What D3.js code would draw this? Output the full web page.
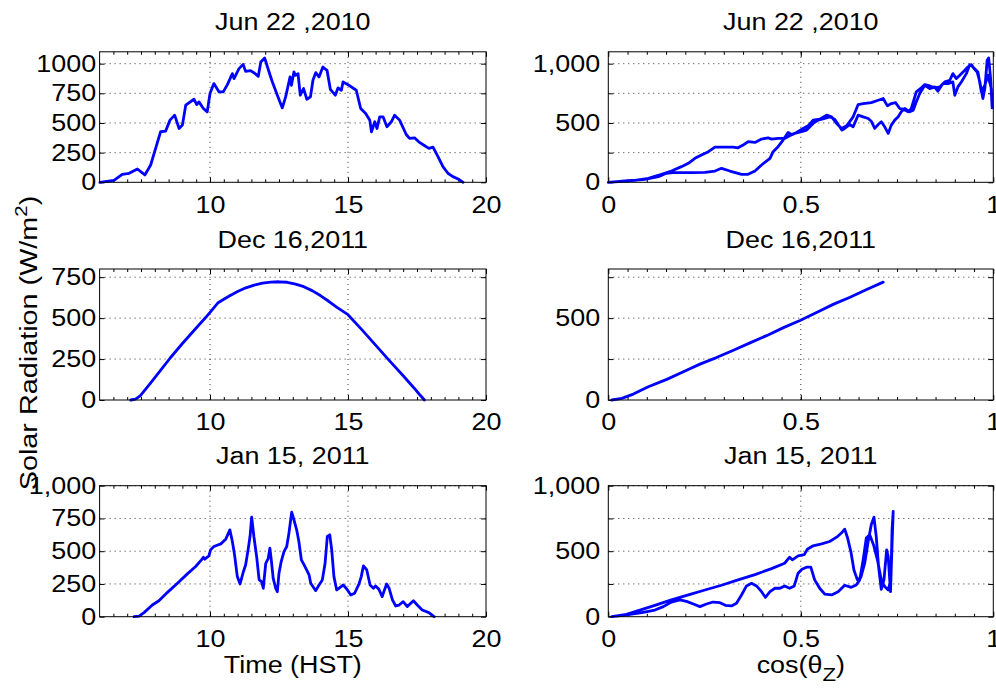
<!DOCTYPE html>
<html>
<head>
<meta charset="utf-8">
<script src="https://cdn.jsdelivr.net/npm/d3@7"></script>
<style>
  body { margin: 0; background: #fff; }
  text { font-family: "Liberation Sans", Arial, Helvetica, sans-serif; fill: #000; }
</style>
</head>
<body>
<div id="chart"></div>
<script>
// ---- data ----
var titles = ["Jun 22 ,2010", "Dec 16,2011", "Jan 15, 2011"];

// Jun 22, 2010 : radiation vs time (HST)
var jun22Hour = [6.01,6.52,6.82,7.07,7.37,7.64,7.85,8.03,8.21,8.39,8.55,8.72,8.88,9.0,9.12,9.42,9.52,9.6,9.76,9.9,10.0,10.14,10.33,10.48,10.63,10.81,10.87,11.05,11.2,11.29,11.47,11.59,11.75,11.84,11.98,12.14,12.26,12.44,12.62,12.74,12.9,12.95,13.04,
  13.1,13.19,13.27,13.39,13.51,13.64,13.73,13.83,13.95,14.09,14.24,14.36,14.54,14.64,14.76,14.82,15.0,15.3,15.46,15.64,15.79,15.85,15.97,16.05,16.15,16.27,16.41,16.57,16.69,16.87,17.11,17.23,17.41,17.59,17.78,17.93,18.08,18.26,18.44,18.62,18.8,18.99,19.17];
var jun22Rad = [0,17,67,76,112,62,146,286,426,431,524,566,454,482,650,700,655,678,622,594,748,832,762,762,823,916,874,958,994,935,941,924,893,1014,1048,930,846,734,627,720,888,818,930,
  902,916,734,790,700,720,860,924,888,972,944,784,734,796,776,846,823,776,622,580,524,426,510,454,552,552,468,510,566,524,403,370,375,336,308,286,297,216,132,76,48,28,0];

// Jun 22, 2010 : radiation vs cos(zenith), morning then afternoon
var jun22CosAm = [0,.043,.095,.130,.151,.173,.216,.251,.277,.294,.316,.346,.363,.381,.398,.420,.428,.441,.454,.467,.476,.489,.506,.519,.532,.549,.567,.580,.593,.606,.619,.636,.649,.662,.683,.701,.714,.725,.735,.746,.757,.766,.779,.787,.800,.813,.822,.835,.848,.861,.874,.887,.895,.904,.913,.926,.934,.943,.950,.958,.965,.973,.978,.984,.988,.993,.997];
var jun22RadAm = [0,11,25,48,76,84,81,84,95,118,95,67,67,95,146,202,258,300,356,420,403,420,454,476,524,532,566,552,496,454,476,552,655,664,672,692,706,644,664,672,622,616,594,622,762,796,824,812,796,804,846,860,916,874,902,944,972,992,958,930,846,706,790,1028,1048,874,627];
var jun22CosPm = [.995,.986,.978,.969,.960,.947,.939,.930,.917,.908,.900,.895,.882,.869,.856,.848,.835,.822,.809,.800,.792,.783,.770,.761,.753,.744,.735,.727,.718,.709,.701,.692,.683,.675,.662,.649,.636,.627,.614,.607,.597,.588,.575,.562,.545,.532,.515,.502,.484,.471,.458,.441,.424,.415,.398,.381,.363,.350,.337,.324,.303,.277,.260,.242,.225,.208,.190,.164,.138,.104,.069,.026,0];
var jun22RadPm = [790,902,818,762,930,972,992,916,846,804,734,846,832,832,768,804,790,818,748,678,608,594,622,594,552,524,482,412,468,510,487,454,515,538,552,566,468,487,454,440,487,532,552,538,524,496,440,426,412,392,370,370,364,375,364,336,342,314,291,297,297,297,258,230,202,160,132,95,67,34,17,6,0];

// Dec 16, 2011 (clear day)
var dec16Hour = [7.13,7.3,7.47,7.83,8.2,8.55,9.0,9.5,9.85,10.1,10.28,10.5,10.75,11.0,11.3,11.6,11.9,12.2,12.5,12.8,13.1,13.4,13.7,14.0,14.3,14.6,15.0,15.5,16.0,16.45,17.0,17.4,17.6,17.77];
var dec16Rad = [0,5,25,100,180,255,345,440,505,555,592,615,640,662,685,702,714,720,722,719,708,692,668,638,603,566,521,430,335,250,148,72,32,0];
var dec16Cos = [0.009,0.035,0.065,0.104,0.152,0.195,0.238,0.281,0.325,0.368,0.411,0.455,0.498,0.541,0.584,0.628,0.671,0.714];
var dec16CosRad = [0,10,36,81,126,172,219,259,304,349,393,442,486,535,584,628,675,720];

// Jan 15, 2011
var jan15Hour = [7.25,7.43,7.61,7.91,8.15,8.45,8.82,9.18,9.48,9.69,9.76,9.81,9.96,10.02,10.14,10.39,10.57,10.72,10.81,10.89,10.99,11.09,11.2,11.29,11.38,11.45,11.51,11.59,11.69,11.78,11.87,11.93,12.02,12.11,12.17,12.22,12.29,12.38,12.44,12.5,12.58,12.68,12.78,12.86,12.96,13.04,13.14,13.22,13.31,13.41,13.5,13.59,13.65,13.77,13.83,13.95,14.07,14.17,14.25,14.34,14.41,14.49,14.59,14.67,14.83,14.98,15.1,15.24,15.4,15.48,15.56,15.68,15.8,15.92,16.0,16.12,16.24,16.3,16.4,16.49,16.61,16.73,16.85,17.0,17.15,17.37,17.51,17.69,17.93,18.12];
var jan15Rad = [0,5,31,89,122,184,255,327,383,434,454,439,464,510,536,556,592,663,574,472,306,250,337,395,510,612,760,612,459,281,268,217,408,446,523,434,293,217,191,332,421,497,536,638,798,740,663,574,434,395,357,319,255,217,199,242,281,408,612,625,510,306,204,217,242,204,166,179,250,306,388,357,242,217,235,209,153,191,250,217,128,82,89,115,77,122,89,51,31,0];
var jan15CosAm = [0.009,.043,.078,.121,.164,.208,.251,.294,.337,.381,.424,.458,.471,.478,.493,.509,.517,.532,.554,.575,.593,.607,.614,.621,.630,.638,.647,.656,.666,.675,.683,.690,.696,.702,.709,.716,.723,.727,.733,.736,.740];
var jan15RadAm = [0,15,46,87,128,166,204,240,281,321,367,408,454,434,464,474,515,541,556,574,607,643,668,607,497,357,281,301,408,574,702,760,612,383,209,281,510,459,191,459,804];
var jan15CosPm = [.737,.734,.727,.718,.709,.699,.689,.679,.670,.662,.653,.644,.631,.614,.597,.580,.562,.549,.536,.526,.515,.503,.493,.483,.471,.458,.446,.433,.420,.408,.398,.385,.372,.359,.346,.333,.320,.304,.290,.272,.255,.238,.221,.203,.186,.164,.143,.121,.087,.043,.009];
var jan15RadPm = [663,281,204,230,281,434,548,625,600,434,281,242,224,240,191,166,173,217,281,378,378,362,332,235,217,235,217,217,191,148,191,235,255,235,166,102,82,87,107,112,97,77,97,117,128,112,77,51,31,13,0];

// axis ticks and labels
var yMax = [1100, 800, 1000];
var yTickVals = [[0,250,500,750,1000],[0,250,500,750],[0,250,500,750,1000]];
var yLabelsLeft = [["0","250","500","750","1000"],["0","250","500","750"],["0","250","500","750","1,000"]];
var yLabelsRight = [["0","","500","","1,000"],["0","","500",""],["0","","500","","1,000"]];
var hourTicks = [10, 15, 20];
var cosTicks = [0, 0.5, 1];
var cosTickLabels = ["0", "0.5", "1"];

// ---- layout ----
var width = 996, height = 688;
var colX = [[99.6, 486], [608.3, 993.3]];
var rowY = [[51.8, 182.3], [269, 400], [485.7, 616.7]];
var fontSize = 23, sx = 1.17;

var svg = d3.select("#chart").append("svg")
    .attr("width", width)
    .attr("height", height);

var panels = [
  {row:0, col:0, xd:[6,20], xs:jun22Hour, ys:jun22Rad},
  {row:0, col:1, xd:[0,1], xs:jun22CosAm.concat(jun22CosPm), ys:jun22RadAm.concat(jun22RadPm)},
  {row:1, col:0, xd:[6,20], xs:dec16Hour, ys:dec16Rad},
  {row:1, col:1, xd:[0,1], xs:dec16Cos, ys:dec16CosRad},
  {row:2, col:0, xd:[6,20], xs:jan15Hour, ys:jan15Rad},
  {row:2, col:1, xd:[0,1], xs:jan15CosAm.concat(jan15CosPm), ys:jan15RadAm.concat(jan15RadPm)}
];

function stretchText(sel) {
  sel.attr("transform", "scale(" + sx + ",1)")
     .style("font-size", fontSize + "px")
     .attr("fill", "#000");
}

panels.forEach(function(p) {
  var x0 = colX[p.col][0], x1 = colX[p.col][1];
  var y0 = rowY[p.row][0], y1 = rowY[p.row][1];
  var x = d3.scaleLinear().domain(p.xd).range([x0, x1]);
  var y = d3.scaleLinear().domain([0, yMax[p.row]]).range([y1, y0]);
  var g = svg.append("g");

  // dotted grid
  var xGrid = p.col === 0 ? [10, 15] : [0.5];
  var yGrid = yTickVals[p.row].filter(function(d) { return d > 0; });
  g.selectAll(".gx").data(xGrid).enter().append("line")
    .attr("x1", function(d) { return x(d); }).attr("x2", function(d) { return x(d); })
    .attr("y1", y0).attr("y2", y1)
    .attr("stroke", "#333").attr("stroke-width", 1).attr("stroke-dasharray", "1,4");
  g.selectAll(".gy").data(yGrid).enter().append("line")
    .attr("x1", x0).attr("x2", x1)
    .attr("y1", function(d) { return y(d); }).attr("y2", function(d) { return y(d); })
    .attr("stroke", "#333").attr("stroke-width", 1).attr("stroke-dasharray", "1,4");

  // ticks pointing inwards, on all four sides
  var minor = p.col === 0 ? d3.range(6.5, 20, 0.5) : d3.range(0.05, 1, 0.05);
  var xMaj = p.col === 0 ? hourTicks : cosTicks;
  var xLab = p.col === 0 ? hourTicks.map(String) : cosTickLabels;

  var ax = d3.axisBottom(x).tickValues(xMaj).tickSizeInner(-5).tickSizeOuter(0).tickPadding(14)
    .tickFormat(function(d, i) { return xLab[i]; });
  var gx = g.append("g").attr("transform", "translate(0," + y1 + ")").call(ax);
  g.append("g").attr("transform", "translate(0," + y1 + ")")
    .call(d3.axisBottom(x).tickValues(minor).tickSizeInner(-3).tickSizeOuter(0).tickFormat(""));
  g.append("g").attr("transform", "translate(0," + y0 + ")")
    .call(d3.axisTop(x).tickValues(xMaj).tickSizeInner(-5).tickSizeOuter(0).tickFormat(""));
  g.append("g").attr("transform", "translate(0," + y0 + ")")
    .call(d3.axisTop(x).tickValues(minor).tickSizeInner(-3).tickSizeOuter(0).tickFormat(""));

  var labs = p.col === 0 ? yLabelsLeft[p.row] : yLabelsRight[p.row];
  var ay = d3.axisLeft(y).tickValues(yTickVals[p.row]).tickSizeInner(-5).tickSizeOuter(0)
    .tickPadding(p.col === 0 ? 3 : 7)
    .tickFormat(function(d, i) { return labs[i]; });
  var gy = g.append("g").attr("transform", "translate(" + x0 + ",0)").call(ay);
  g.append("g").attr("transform", "translate(" + x1 + ",0)")
    .call(d3.axisRight(y).tickValues(yTickVals[p.row]).tickSizeInner(-5).tickSizeOuter(0).tickFormat(""));

  g.selectAll(".domain").remove();
  g.selectAll(".tick line").attr("stroke", "#000");
  gx.selectAll("text").call(stretchText);
  gy.selectAll("text").call(stretchText);

  // data line
  var line = d3.line()
    .x(function(d) { return x(d[0]); })
    .y(function(d) { return y(d[1]); });
  g.append("path")
    .datum(d3.zip(p.xs, p.ys))
    .attr("d", line)
    .attr("fill", "none")
    .attr("stroke", "#0000ff")
    .attr("stroke-width", 2.8)
    .attr("stroke-linejoin", "round")
    .attr("stroke-linecap", "round");

  // box
  g.append("rect")
    .attr("x", x0).attr("y", y0)
    .attr("width", x1 - x0).attr("height", y1 - y0)
    .attr("fill", "none").attr("stroke", "#000").attr("stroke-width", 1);

  // title
  svg.append("text")
    .attr("transform", "translate(" + ((x0 + x1) / 2) + "," + (y0 - 21.5) + ") scale(" + sx + ",1)")
    .attr("text-anchor", "middle")
    .style("font-size", fontSize + "px")
    .text(titles[p.row]);
});

// axis labels
svg.append("text")
  .attr("transform", "translate(" + ((colX[0][0] + colX[0][1]) / 2) + ",673) scale(" + sx + ",1)")
  .attr("text-anchor", "middle")
  .style("font-size", fontSize + "px")
  .text("Time (HST)");

var cosLab = svg.append("text")
  .attr("transform", "translate(" + ((colX[1][0] + colX[1][1]) / 2) + ",673) scale(" + sx + ",1)")
  .attr("text-anchor", "middle")
  .style("font-size", fontSize + "px");
cosLab.append("tspan").text("cos(\u03b8");
cosLab.append("tspan").attr("dy", 8).style("font-size", "19px").text("Z");
cosLab.append("tspan").attr("dy", -8).text(")");

var yLab = svg.append("text")
  .attr("transform", "translate(37,343) rotate(-90) scale(1.2,1)")
  .attr("text-anchor", "middle")
  .style("font-size", "24px");
yLab.append("tspan").text("Solar Radiation (W/m");
yLab.append("tspan").attr("dy", -10).style("font-size", "17px").text("2");
yLab.append("tspan").attr("dy", 10).text(")");
</script>
</body>
</html>
